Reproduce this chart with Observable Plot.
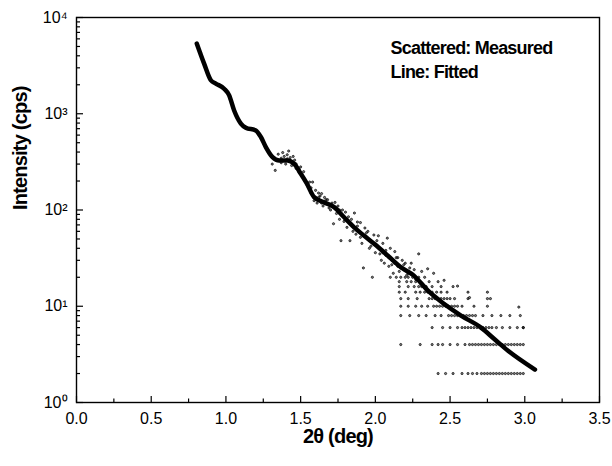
<!DOCTYPE html>
<html><head><meta charset="utf-8">
<script src="https://cdn.jsdelivr.net/npm/d3@7"></script>
<script src="https://cdn.jsdelivr.net/npm/@observablehq/plot@0.6"></script>
<style>
body{margin:0;background:#fff}
svg{display:block}
svg g[aria-label="text"] text{letter-spacing:-0.8px}
</style>
</head><body><div id="chart"></div>
<script>
// Fitted curve (2θ in deg, intensity in cps)
const fitX = [0.805,0.854,0.899,0.932,0.988,1.021,1.055,1.100,1.133,1.200,1.234,1.267,1.312,1.356,1.412,1.456,1.501,1.540,1.590,1.657,1.724,1.791,1.858,1.925,1.992,2.082,2.171,2.258,2.352,2.459,2.573,2.707,2.794,2.888,3.068];
const fitY = [5360,3320,2230,2060,1820,1560,1080,790,716,671,573,451,354,327,327,303,238,190,136,120,107,84,66,54,44.5,33.7,25.4,20.8,14.5,10.6,8.0,6.0,4.6,3.45,2.2];

// Measured points along the curve
const measX = [0.81,0.83,0.85,0.87,0.89,0.91,0.93,0.95,0.97,0.99,1.01,1.03,1.05,1.07,1.09,1.11,1.13,1.15,1.17,1.19,1.21,1.23,1.25,1.27,1.29,1.31,1.33,1.35,1.37,1.39,1.41,1.43,1.45,1.47,1.49,1.51,1.53,1.55,1.57,1.59,1.61,1.63,1.65,1.67,1.69,1.71,1.73,1.75,1.77,1.79,1.81,1.83,1.85,1.87,1.89,1.91,1.93,1.95,1.97,1.99,2.01,2.03,2.05,2.07,2.09,2.11,2.13,2.15,2.17,2.19];
const measY = [5200,4300,3400,2800,2350,2150,2050,2000,1900,1800,1650,1400,1150,950,830,760,730,700,690,680,640,590,510,440,390,355,340,330,345,360,340,320,300,270,245,225,200,175,150,138,130,125,122,118,114,110,104,97,90,84,78,72,67,63,60,56,53,50,47,44,42,39,36,34,32,30,28,26,25,24];

// Scattered measured points off the curve
const noiseX = [1.31,1.33,1.35,1.37,1.38,1.40,1.41,1.42,1.43,1.44,1.45,1.46,1.47,1.49,1.50,1.56,1.58,1.60,1.61,1.62,1.63,1.64,1.65,1.66,1.68,1.70,1.72,1.73,1.75,1.76,1.77,1.78,1.80,1.81,1.83,1.84,1.86,1.87,1.88,1.90,1.91,1.92,1.93,1.95,1.96,1.98,1.99,2.00,2.02,2.04,2.05,2.06,2.08,2.09,2.10,2.12,2.13,2.15,2.18,2.20,2.22,2.24,2.26,2.29,2.31,2.35,2.39,2.46,2.55,2.63,2.75,2.96,2.99];
const noiseY = [300,258,380,310,395,300,375,410,350,290,360,330,300,265,280,195,195,160,118,150,140,148,110,135,128,100,72,120,110,80,48,100,95,66,48,80,93,56,75,74,45,25,65,60,40,20,55,36,54,30,45,28,51,26,40,22,37,32,30,28,22,28,24,35,23,24.5,22,18.6,16.2,12.3,12,9.8,6];
const nearX = [1.52,1.54,1.57,1.59,1.62,1.64,1.67,1.69,1.71,1.74,1.76,1.79,1.82,1.85,1.88,1.90,1.94,1.97,2.01,2.03,2.07,2.11,2.14,2.16,2.19,2.21,2.23,2.27];
const nearY = [250,185,170,125,135,118,128,105,118,92,100,76,85,60,68,52,58,42,48,35,38,27,32,23,27,21,25,19];

// Low-count measured points (counts quantized in rows)
const row20X = [2.10,2.14,2.17,2.20,2.22,2.25,2.29,2.33];
const row18X = [2.16,2.21,2.24,2.27,2.30,2.36,2.42];
const row16X = [2.16,2.22,2.26,2.29,2.31,2.34,2.38,2.44,2.52];
const row14X = [2.16,2.20,2.27,2.30,2.33,2.35,2.38,2.41,2.44,2.48,2.62,2.75];
const row12X = [2.17,2.22,2.28,2.36,2.38,2.40,2.42,2.44,2.46,2.48,2.50,2.53,2.62,2.77];
const row10X = [2.17,2.22,2.27,2.31,2.35,2.39,2.41,2.43,2.45,2.47,2.49,2.51,2.53,2.55,2.58,2.66,2.75];
const row8X = [2.17,2.23,2.29,2.34,2.40,2.44,2.49,2.51,2.53,2.55,2.57,2.59,2.61,2.63,2.65,2.67,2.72,2.78,2.84,2.90,2.97];
const row6X = [2.38,2.45,2.50,2.55,2.58,2.60,2.62,2.64,2.66,2.68,2.70,2.72,2.74,2.76,2.78,2.81,2.85,2.90,2.95,2.99];
const row4X = [2.17,2.30,2.38,2.42,2.45,2.50,2.55,2.60,2.63,2.65,2.67,2.69,2.71,2.73,2.75,2.77,2.79,2.81,2.83,2.85,2.87,2.89,2.91,2.93,2.95,2.97,2.99];
const row2X = [2.42,2.47,2.52,2.58,2.62,2.65,2.68,2.71,2.73,2.75,2.77,2.79,2.81,2.83,2.85,2.87,2.89,2.91,2.93,2.95,2.97,2.99];
const rowLevels = [20,18,16,14,12,10,8,6,4,2];
const rowXs = [row20X,row18X,row16X,row14X,row12X,row10X,row8X,row6X,row4X,row2X];

// Ticks
const xTicks = [0,0.5,1.0,1.5,2.0,2.5,3.0,3.5];
const xMinorTicks = [0.25,0.75,1.25,1.75,2.25,2.75,3.25];
const yTicks = [1,10,100,1000,10000];
const yTickLabels = ["10\u2070","10\u00B9","10\u00B2","10\u00B3","10\u2074"];
const yMinorTicks = [];
for (const dec of [1,10,100,1000]) for (let m = 2; m <= 9; m++) yMinorTicks.push(dec*m);

const legendLines = ["Scattered: Measured","Line: Fitted"];
const xLabel = "2\u03B8 (deg)";
const yLabel = "Intensity (cps)";

const fit = fitX.map((x,i) => ({x, y: fitY[i]}));
const meas = measX.map((x,i) => ({x, y: measY[i]}))
  .concat(noiseX.map((x,i) => ({x, y: noiseY[i]})))
  .concat(nearX.map((x,i) => ({x, y: nearY[i]})));
rowLevels.forEach((lv, k) => rowXs[k].forEach(x => meas.push({x, y: lv})));

const font = "'Liberation Sans', Arial, Helvetica, sans-serif";
const chart = Plot.plot({
  width: 612, height: 466,
  marginLeft: 76, marginRight: 13, marginTop: 17, marginBottom: 64,
  x: {domain: [0, 3.5]},
  y: {type: "log", domain: [1, 10000]},
  style: {fontFamily: font, background: "#fff", color: "#000"},
  marks: [
    Plot.axisX(xTicks, {tickSize: -6, tickPadding: 16, tickFormat: d => d.toFixed(1), fontSize: 16, label: null, strokeWidth: 1.2}),
    Plot.axisX(xMinorTicks, {tickSize: -3.5, tickFormat: () => "", label: null, strokeWidth: 1.2}),
    Plot.axisY(yTicks, {tickSize: -7, tickPadding: 16, tickFormat: d => yTickLabels[yTicks.indexOf(d)], fontSize: 16, label: null, strokeWidth: 1.2}),
    Plot.axisY(yMinorTicks, {tickSize: -4, tickFormat: () => "", label: null, strokeWidth: 1.2}),
    Plot.dot(meas, {x: "x", y: "y", r: 1.1, stroke: "#000", strokeWidth: 0.7, fill: "#000", fillOpacity: 0.5}),
    Plot.line(fit, {x: "x", y: "y", curve: "monotone-x", stroke: "#000", strokeWidth: 4.5, strokeLinecap: "round"}),
    Plot.frame({stroke: "#000", strokeWidth: 1.4}),
    Plot.text([legendLines[0]], {frameAnchor: "top-left", dx: 314, dy: 24, textAnchor: "start", fontSize: 18, fontWeight: "bold", fill: "#000"}),
    Plot.text([legendLines[1]], {frameAnchor: "top-left", dx: 314, dy: 48, textAnchor: "start", fontSize: 18, fontWeight: "bold", fill: "#000"}),
    Plot.text([xLabel], {frameAnchor: "bottom", dy: 40, fontSize: 20, fontWeight: "bold", fill: "#000"}),
    Plot.text([yLabel], {frameAnchor: "left", dx: -56, rotate: -90, fontSize: 20, fontWeight: "bold", fill: "#000"})
  ]
});
document.getElementById("chart").appendChild(chart);
</script>
</body></html>
